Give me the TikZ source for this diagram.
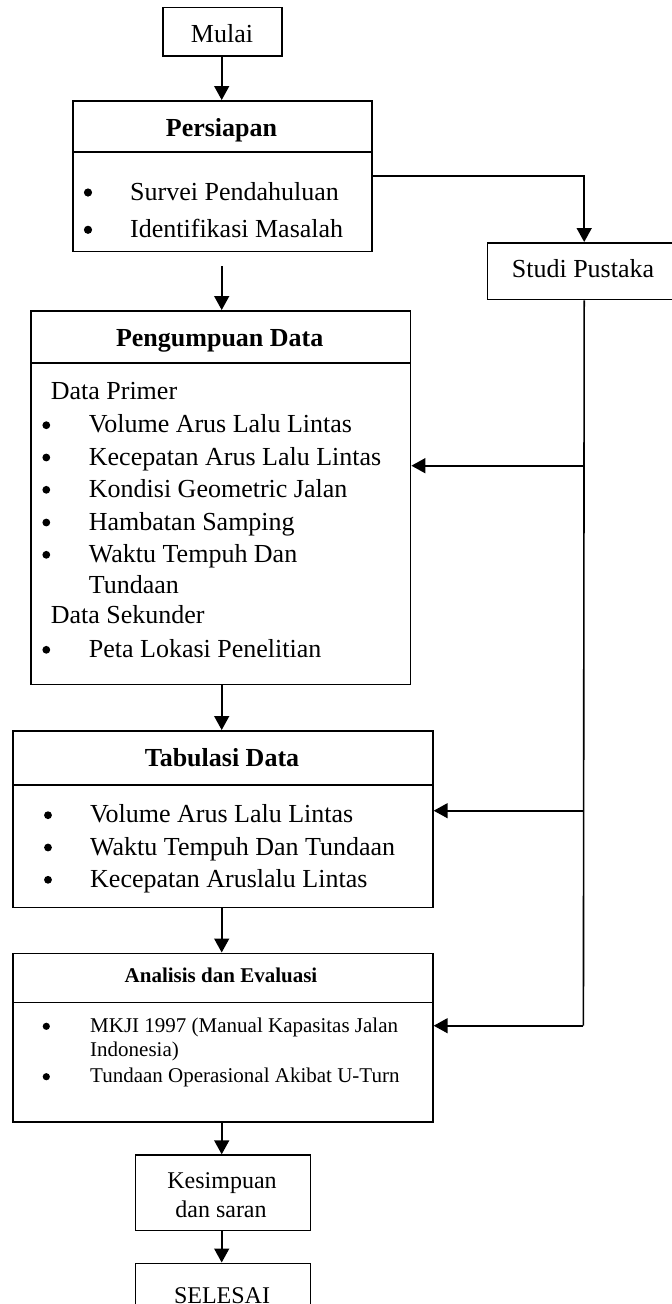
\documentclass[tikz,border=0pt]{standalone}
\usepackage{fontspec}
\setmainfont{Liberation Serif}
\usetikzlibrary{arrows.meta}
\tikzset{
  box/.style={draw, line width=1.7pt, inner sep=0pt, anchor=north west},
  divline/.style={line width=1.7pt},
  arr/.style={line width=1.6pt, -{Triangle[length=14pt,width=15pt]}},
  conn/.style={line width=1.6pt},
  ttl/.style={font=\fontsize{26}{30}\selectfont\bfseries, inner sep=0pt, anchor=base},
  ttlsmall/.style={font=\fontsize{21}{25}\selectfont\bfseries, inner sep=0pt, anchor=base},
  ctr/.style={font=\fontsize{26}{30}\selectfont, inner sep=0pt, anchor=base},
  ctrsmall/.style={font=\fontsize{24}{28}\selectfont, inner sep=0pt, anchor=base},
  itm/.style={font=\fontsize{26}{30}\selectfont, inner sep=0pt, anchor=base west},
  itmsmall/.style={font=\fontsize{21}{25}\selectfont, inner sep=0pt, anchor=base west},
  bul/.style={circle, fill, inner sep=0pt, minimum size=7.8pt, yshift=7.5pt},
  bulsmall/.style={circle, fill, inner sep=0pt, minimum size=7.2pt, yshift=6pt},
}
\begin{document}
\begin{tikzpicture}[x=1pt,y=-1pt]
\useasboundingbox (0,0) rectangle (672,1304);
\clip (0,0) rectangle (672,1304);

% boxes
\node[box, minimum width=119pt, minimum height=48.3pt] (mulai) at (162,6.7) {};
\node[box, minimum width=299pt, minimum height=150.7pt] (pers) at (72,100) {};
\node[box, minimum width=193.3pt, minimum height=56.7pt] (studi) at (486.7,242) {};
\node[box, minimum width=379.7pt, minimum height=373.5pt] (peng) at (30,310) {};
\node[box, minimum width=419.7pt, minimum height=176.7pt] (tab) at (12.3,730) {};
\node[box, minimum width=420pt, minimum height=168.5pt] (ana) at (12,952.5) {};
\node[box, minimum width=175pt, minimum height=75.2pt] (kes) at (134.5,1154.3) {};
\node[box, minimum width=175pt, minimum height=70pt] (sel) at (134.5,1262.5) {};

% dividers
\draw[divline] (72,152.3) -- (371,152.3);
\draw[divline] (32,363.3) -- (409.7,363.3);
\draw[divline] (12.3,785) -- (432,785);
\draw[divline] (12,1002.5) -- (432,1002.5);

% texts
\node[ctr] (tmulai) at (222,42.7) {Mulai};
\node[ttl] (tpers) at (221.5,136.7) {Persiapan};
\node[bul, minimum size=8.2pt] (bp1) at (88,200) {};
\node[itm] (ip1) at (130,200) {Survei Pendahuluan};
\node[bul, minimum size=8.2pt] (bp2) at (88,237.3) {};
\node[itm] (ip2) at (130,237.3) {Identifikasi Masalah};

\node[ctr] (tstudi) at (583,277.3) {Studi Pustaka};

\node[ttl] (tpeng) at (219.7,346) {Pengumpuan Data};
\node[itm] (dprim) at (50.6,399.3) {Data Primer};
\node[bul] (bg1) at (46.3,432.7) {};
\node[itm] (ig1) at (88.7,432.7) {Volume Arus Lalu Lintas};
\node[bul] (bg2) at (46.3,465) {};
\node[itm] (ig2) at (88.7,465) {Kecepatan Arus Lalu Lintas};
\node[bul] (bg3) at (46.3,497.3) {};
\node[itm] (ig3) at (88.7,497.3) {Kondisi Geometric Jalan};
\node[bul] (bg4) at (46.3,530) {};
\node[itm] (ig4) at (88.7,530) {Hambatan Samping};
\node[bul] (bg5) at (46.3,562.3) {};
\node[itm] (ig5) at (88.7,562.3) {Waktu Tempuh Dan};
\node[itm] (ig5b) at (88.7,593.3) {Tundaan};
\node[itm] (dsek) at (50.6,623.3) {Data Sekunder};
\node[bul] (bg6) at (46.3,657.3) {};
\node[itm] (ig6) at (88.7,657.3) {Peta Lokasi Penelitian};

\node[ttl] (ttab) at (222,766.7) {Tabulasi Data};
\node[bul] (bt1) at (48,822.7) {};
\node[itm] (it1) at (90,822.7) {Volume Arus Lalu Lintas};
\node[bul] (bt2) at (48,855) {};
\node[itm] (it2) at (90,855) {Waktu Tempuh Dan Tundaan};
\node[bul] (bt3) at (48,887.3) {};
\node[itm] (it3) at (90,887.3) {Kecepatan Aruslalu Lintas};

\node[ttlsmall] (tana) at (221,982.7) {Analisis dan Evaluasi};
\node[bulsmall] (ba1) at (46.3,1032.3) {};
\node[itmsmall] (ia1) at (90,1032.3) {MKJI 1997 (Manual Kapasitas Jalan};
\node[itmsmall] (ia1b) at (90,1056.7) {Indonesia)};
\node[bulsmall] (ba2) at (46.3,1082.7) {};
\node[itmsmall] (ia2) at (90,1082.7) {Tundaan Operasional Akibat U-Turn};

\node[ctrsmall] (tkes1) at (222,1188.3) {Kesimpuan};
\node[ctrsmall] (tkes2) at (221,1217.3) {dan saran};
\node[ctrsmall] (tsel) at (222,1303.5) {SELESAI};

% connectors
\coordinate (s2) at (221.7,266);
\coordinate (j1) at (583.4,465.7);
\coordinate (j2) at (583.4,810.7);
\coordinate (j3) at (583.4,1025.7);

\draw[arr] (mulai.south -| s2) -- (pers.north -| s2);
\draw[arr] (pers.east) -| (studi.north);
\draw[arr] (s2) -- (peng.north -| s2);
\draw[conn] (studi.south) -- (j3);
\draw[arr] (j1) -- (j1 -| peng.east);
\draw[arr] (j2) -- (j2 -| tab.east);
\draw[arr] (j3) -- (j3 -| ana.east);
\draw[arr] (peng.south -| s2) -- (tab.north -| s2);
\draw[arr] (tab.south -| s2) -- (ana.north -| s2);
\draw[arr] (ana.south -| s2) -- (kes.north -| s2);
\draw[arr] (kes.south -| s2) -- (sel.north -| s2);
\end{tikzpicture}
\end{document}
